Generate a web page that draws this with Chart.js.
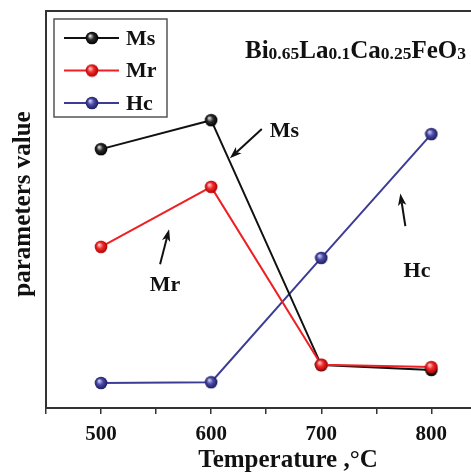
<!DOCTYPE html>
<html>
<head>
<meta charset="utf-8">
<script src="https://cdn.jsdelivr.net/npm/chart.js@4.4.1/dist/chart.umd.min.js"></script>
<style>
  html, body { margin: 0; padding: 0; background: #ffffff; }
  #wrap { width: 471px; height: 472px; }
</style>
</head>
<body>
<div id="wrap"><canvas id="c" width="471" height="472"></canvas></div>
<script>
// Annealing temperature (°C)
const temperatures = [500, 600, 700, 800];
// Magnetic parameters, arbitrary units
const msValues = [65.2, 72.5, 10.8, 9.6];
const mrValues = [40.6, 55.7, 10.9, 10.3];
const hcValues = [6.3, 6.5, 37.8, 69.0];
const seriesNames = ['Ms', 'Mr', 'Hc'];
// Axis tick values (labels only on the hundreds)
const xTickValues = [450, 500, 550, 600, 650, 700, 750, 800];
const xAxisTitle = 'Temperature ,°C';
const yAxisTitle = 'parameters value';

const SERIF = '"Liberation Serif", "Times New Roman", serif';

// Shaded ball marker drawn into a small offscreen canvas
function makeBall(light, mid, dark) {
  const s = 14, r = 6.3;
  const cv = document.createElement('canvas');
  cv.width = s; cv.height = s;
  const g = cv.getContext('2d');
  const grad = g.createRadialGradient(s / 2 - 2, s / 2 - 2.2, 0.5, s / 2, s / 2, r);
  grad.addColorStop(0, light);
  grad.addColorStop(0.45, mid);
  grad.addColorStop(1, dark);
  g.fillStyle = grad;
  g.beginPath();
  g.arc(s / 2, s / 2, r, 0, Math.PI * 2);
  g.fill();
  return cv;
}

const balls = {
  Ms: makeBall('#d8d8d8', '#2a2a2a', '#000000'),
  Mr: makeBall('#ffc4c4', '#f02a2a', '#b00000'),
  Hc: makeBall('#c8c8f0', '#4a4aa8', '#1c1c5c')
};
const lineColors = { Ms: '#111111', Mr: '#ee2024', Hc: '#3c3c96' };

function toPoints(vals) {
  return temperatures.map((t, i) => ({ x: t, y: vals[i] }));
}

// Callout arrows with their labels, in data units
const callouts = [
  { text: 'Ms', tx: 666.5, ty: 69.6, from: [646.0, 70.3], to: [617.0, 62.9] },
  { text: 'Mr', tx: 558.0, ty: 31.0, from: [553.6, 36.2], to: [561.8, 45.0] },
  { text: 'Hc', tx: 787.0, ty: 34.5, from: [776.4, 45.8], to: [771.8, 54.0] }
];

// Formula title pieces: [text, isSubscript]
const formula = [['Bi', 0], ['0.65', 1], ['La', 0], ['0.1', 1], ['Ca', 0], ['0.25', 1], ['FeO', 0], ['3', 1]];

const overlayPlugin = {
  id: 'overlay',
  afterDatasetsDraw(chart) {
    const ctx = chart.ctx;
    const xs = chart.scales.x, ys = chart.scales.y;
    ctx.save();

    // callouts
    callouts.forEach(c => {
      const x1 = xs.getPixelForValue(c.from[0]), y1 = ys.getPixelForValue(c.from[1]);
      const x2 = xs.getPixelForValue(c.to[0]), y2 = ys.getPixelForValue(c.to[1]);
      const ang = Math.atan2(y2 - y1, x2 - x1);
      const hl = 12, hw = 4.2;
      const bx = x2 - hl * Math.cos(ang), by = y2 - hl * Math.sin(ang);
      ctx.strokeStyle = '#111';
      ctx.fillStyle = '#111';
      ctx.lineWidth = 2;
      ctx.beginPath();
      ctx.moveTo(x1, y1);
      ctx.lineTo(bx + 3 * Math.cos(ang), by + 3 * Math.sin(ang));
      ctx.stroke();
      ctx.beginPath();
      ctx.moveTo(x2, y2);
      ctx.lineTo(bx + hw * Math.sin(ang), by - hw * Math.cos(ang));
      ctx.lineTo(bx + 3 * Math.cos(ang), by + 3 * Math.sin(ang));
      ctx.lineTo(bx - hw * Math.sin(ang), by + hw * Math.cos(ang));
      ctx.closePath();
      ctx.fill();
      ctx.font = 'bold 22px ' + SERIF;
      ctx.textAlign = 'center';
      ctx.textBaseline = 'middle';
      ctx.fillText(c.text, xs.getPixelForValue(c.tx), ys.getPixelForValue(c.ty));
    });

    // formula title
    let fx = 245;
    const fy = 58;
    ctx.textAlign = 'left';
    ctx.textBaseline = 'alphabetic';
    ctx.fillStyle = '#111';
    formula.forEach(([t, sub]) => {
      ctx.font = sub ? 'bold 17.5px ' + SERIF : 'bold 25px ' + SERIF;
      ctx.fillText(t, fx, fy + (sub ? 1 : 0));
      fx += ctx.measureText(t).width;
    });

    // legend box
    const lx = 54, ly = 19, lw = 113, lh = 98;
    ctx.strokeStyle = '#555';
    ctx.lineWidth = 1.5;
    ctx.strokeRect(lx, ly, lw, lh);
    chart.data.datasets.forEach((ds, i) => {
      const y = 38 + i * 32.5;
      ctx.strokeStyle = ds.borderColor;
      ctx.lineWidth = 2;
      ctx.beginPath();
      ctx.moveTo(64, y);
      ctx.lineTo(119, y);
      ctx.stroke();
      ctx.drawImage(ds.pointStyle, 92 - 7, y - 7);
      ctx.fillStyle = '#111';
      ctx.font = 'bold 22px ' + SERIF;
      ctx.textBaseline = 'middle';
      ctx.fillText(ds.label, 126, y + 1);
    });

    // axis titles
    ctx.fillStyle = '#111';
    ctx.textAlign = 'center';
    ctx.textBaseline = 'alphabetic';
    ctx.font = 'bold 25px ' + SERIF;
    ctx.fillText(xAxisTitle, 288, 467);
    ctx.translate(30, 204);
    ctx.rotate(-Math.PI / 2);
    ctx.fillText(yAxisTitle, 0, 0);
    ctx.restore();
  }
};

const datasets = [
  { label: seriesNames[0], data: toPoints(msValues), order: 1 },
  { label: seriesNames[1], data: toPoints(mrValues), order: 0 },
  { label: seriesNames[2], data: toPoints(hcValues), order: 2 }
].map(d => Object.assign(d, {
  borderColor: lineColors[d.label],
  backgroundColor: lineColors[d.label],
  borderWidth: 2,
  pointStyle: balls[d.label],
  pointRadius: 6,
  tension: 0
}));

new Chart(document.getElementById('c'), {
  type: 'line',
  data: { datasets },
  plugins: [overlayPlugin],
  options: {
    responsive: false,
    animation: false,
    events: [],
    layout: { padding: 0, autoPadding: false },
    plugins: { legend: { display: false }, tooltip: { enabled: false } },
    scales: {
      x: {
        type: 'linear',
        position: 'bottom',
        min: 450,
        max: 836,
        afterBuildTicks: s => { s.ticks = xTickValues.map(v => ({ value: v })); },
        afterFit: s => { s.height = 64; s.paddingLeft = 0; s.paddingRight = 0; },
        grid: { drawOnChartArea: false, drawTicks: true, tickLength: 6, color: '#333', lineWidth: 1.5 },
        border: { display: true, color: '#333', width: 2 },
        ticks: {
          autoSkip: false, maxRotation: 0, padding: 8, color: '#111',
          font: { family: SERIF, size: 21, weight: 'bold' },
          callback: v => (v % 100 === 0 ? String(v) : '')
        }
      },
      xTop: {
        type: 'linear',
        position: 'top',
        min: 450,
        max: 836,
        afterFit: s => { s.height = 11; s.paddingLeft = 0; s.paddingRight = 0; },
        grid: { display: false, drawTicks: false },
        border: { display: true, color: '#333', width: 2 },
        ticks: { display: false }
      },
      y: {
        min: 0,
        max: 100,
        afterFit: s => { s.width = 46; },
        grid: { display: false, drawTicks: false },
        border: { display: true, color: '#333', width: 2 },
        ticks: { display: false }
      }
    }
  }
});
</script>
</body>
</html>
